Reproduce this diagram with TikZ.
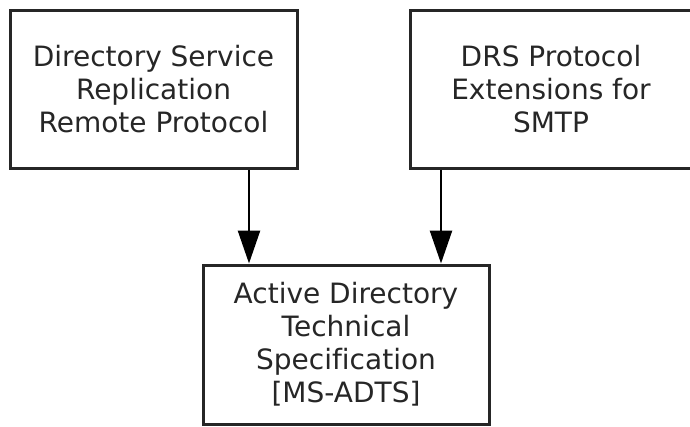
\documentclass[tikz,border=0pt]{standalone}
\usepackage{fontspec}
\setmainfont[Ligatures=NoCommon]{DejaVu Sans}
\usetikzlibrary{arrows.meta}
\begin{document}
\begin{tikzpicture}[x=1pt,y=-1pt,
  box/.style={draw=black!85, line width=3pt, fill=white, inner sep=0pt, align=center,
    font=\fontsize{28}{33}\selectfont, text=black!85},
  arr/.style={draw=black, line width=2.6pt, -{Triangle[length=33pt,width=22pt]}}]
\useasboundingbox (0,0) rectangle (690,426);
\node[box, minimum width=287pt, minimum height=158pt] (b1) at (153.5,89) {Directory Service\\Replication\\Remote Protocol};
\node[box, minimum width=282pt, minimum height=158pt] (b2) at (551,89) {DRS Protocol\\Extensions for\\SMTP};
\node[box, minimum width=286pt, minimum height=159pt] (b3) at (346,344.5) {Active Directory\\Technical\\Specification\\{[MS-ADTS]}};
\coordinate (c1) at (249,0);
\coordinate (c2) at (441,0);
\draw[arr] (c1 |- b1.south) -- (c1 |- b3.north);
\draw[arr] (c2 |- b2.south) -- (c2 |- b3.north);
\end{tikzpicture}
\end{document}
